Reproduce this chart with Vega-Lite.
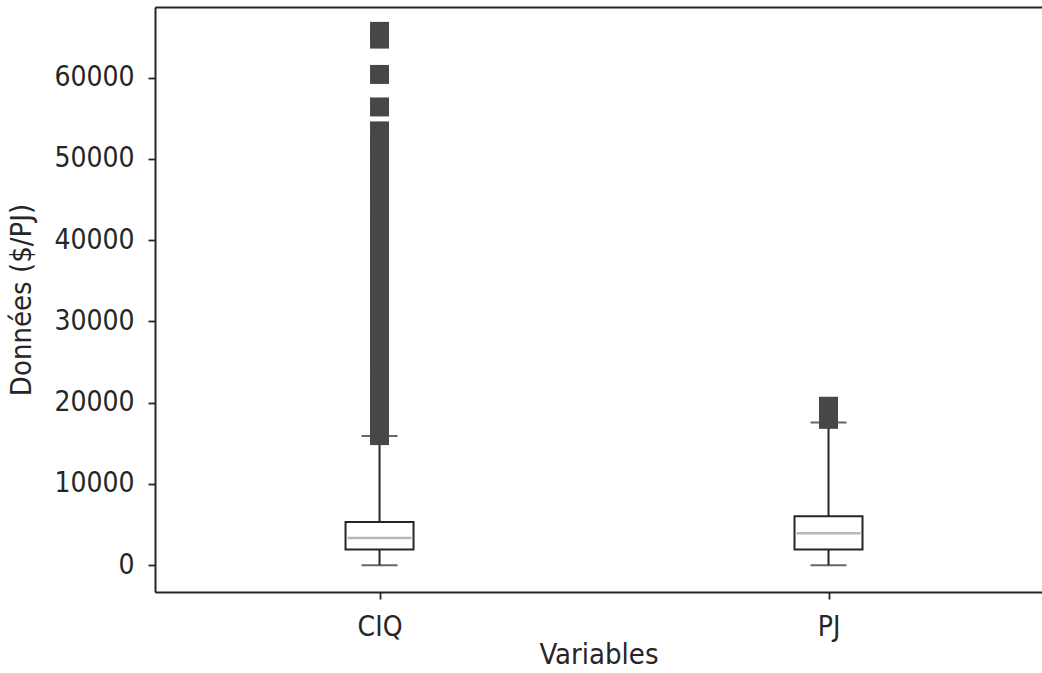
{
  "$schema": "https://vega.github.io/schema/vega-lite/v6.json",
  "autosize": {"type": "none"},
  "padding": {"left": 155, "top": 7, "right": 0, "bottom": 81},
  "width": 887,
  "height": 585,
  "background": "white",
  "config": {
    "view": {"stroke": null},
    "font": "DejaVu Sans Condensed",
    "axis": {
      "domain": true,
      "domainColor": "#262626",
      "domainWidth": 2,
      "grid": false,
      "tickColor": "#262626",
      "tickWidth": 1.8,
      "tickSize": 7,
      "labelColor": "#262626",
      "labelFont": "DejaVu Sans Condensed",
      "labelFontSize": 28,
      "titleColor": "#262626",
      "titleFont": "DejaVu Sans Condensed",
      "titleFontSize": 29,
      "titleFontWeight": "normal"
    }
  },
  "resolve": {"axis": {"x": "independent"}},
  "datasets": {
    "summary": [
      {"variable": "CIQ", "min": 0, "q1": 1930, "median": 3360, "q3": 5330, "max": 15890},
      {"variable": "PJ", "min": 0, "q1": 1930, "median": 3940, "q3": 6030, "max": 17570}
    ],
    "outliers": [
      {"variable": "CIQ", "value": 15950},
      {"variable": "CIQ", "value": 17200},
      {"variable": "CIQ", "value": 18600},
      {"variable": "CIQ", "value": 19800},
      {"variable": "CIQ", "value": 21300},
      {"variable": "CIQ", "value": 22500},
      {"variable": "CIQ", "value": 24000},
      {"variable": "CIQ", "value": 25400},
      {"variable": "CIQ", "value": 26700},
      {"variable": "CIQ", "value": 28100},
      {"variable": "CIQ", "value": 29500},
      {"variable": "CIQ", "value": 30800},
      {"variable": "CIQ", "value": 32300},
      {"variable": "CIQ", "value": 33600},
      {"variable": "CIQ", "value": 35000},
      {"variable": "CIQ", "value": 36400},
      {"variable": "CIQ", "value": 37800},
      {"variable": "CIQ", "value": 39100},
      {"variable": "CIQ", "value": 40600},
      {"variable": "CIQ", "value": 41900},
      {"variable": "CIQ", "value": 43300},
      {"variable": "CIQ", "value": 44700},
      {"variable": "CIQ", "value": 46100},
      {"variable": "CIQ", "value": 47500},
      {"variable": "CIQ", "value": 48800},
      {"variable": "CIQ", "value": 50300},
      {"variable": "CIQ", "value": 51700},
      {"variable": "CIQ", "value": 53450},
      {"variable": "CIQ", "value": 56400},
      {"variable": "CIQ", "value": 60400},
      {"variable": "CIQ", "value": 64750},
      {"variable": "CIQ", "value": 65700},
      {"variable": "PJ", "value": 17950},
      {"variable": "PJ", "value": 18600},
      {"variable": "PJ", "value": 19000},
      {"variable": "PJ", "value": 19560}
    ]
  },
  "layer": [
    {
      "data": {"name": "summary"},
      "mark": {"type": "rule", "color": "#262626", "strokeWidth": 2},
      "encoding": {
        "x": {
          "field": "variable",
          "type": "nominal",
          "scale": {"type": "point", "domain": ["CIQ", "PJ"], "padding": 0.4878, "align": 0.5126},
          "axis": {"title": "Variables", "labelAngle": 0, "labelPadding": 14, "titlePadding": -1}
        },
        "y": {
          "field": "min",
          "type": "quantitative",
          "scale": {"domain": [-3300, 68700], "nice": false, "zero": false},
          "axis": {"title": "Données ($/PJ)", "values": [0, 10000, 20000, 30000, 40000, 50000, 60000], "format": "d", "labelPadding": 14, "titlePadding": 17}
        },
        "y2": {"field": "q1"}
      }
    },
    {
      "data": {"name": "summary"},
      "mark": {"type": "rule", "color": "#262626", "strokeWidth": 2},
      "encoding": {
        "x": {"field": "variable", "type": "nominal", "axis": null},
        "y": {"field": "q3", "type": "quantitative"},
        "y2": {"field": "max"}
      }
    },
    {
      "data": {"name": "summary"},
      "mark": {"type": "tick", "color": "#262626", "size": 36, "thickness": 2, "orient": "horizontal"},
      "encoding": {
        "x": {"field": "variable", "type": "nominal", "axis": null},
        "y": {"field": "min", "type": "quantitative"}
      }
    },
    {
      "data": {"name": "summary"},
      "mark": {"type": "tick", "color": "#262626", "size": 36, "thickness": 2, "orient": "horizontal"},
      "encoding": {
        "x": {"field": "variable", "type": "nominal", "axis": null},
        "y": {"field": "max", "type": "quantitative"}
      }
    },
    {
      "data": {"name": "summary"},
      "mark": {"type": "bar", "width": 68, "fill": "white", "stroke": "#262626", "strokeWidth": 2},
      "encoding": {
        "x": {"field": "variable", "type": "nominal", "axis": null},
        "y": {"field": "q1", "type": "quantitative"},
        "y2": {"field": "q3"}
      }
    },
    {
      "data": {"name": "summary"},
      "mark": {"type": "tick", "color": "#9a9a9a", "size": 64, "thickness": 2.5, "orient": "horizontal"},
      "encoding": {
        "x": {"field": "variable", "type": "nominal", "axis": null},
        "y": {"field": "median", "type": "quantitative"}
      }
    },
    {
      "data": {"name": "outliers"},
      "mark": {"type": "point", "shape": "square", "size": 361, "filled": true, "fill": "#474747", "strokeWidth": 0, "opacity": 1},
      "encoding": {
        "x": {"field": "variable", "type": "nominal", "axis": {"orient": "top", "labels": false, "ticks": false, "title": null}},
        "y": {"field": "value", "type": "quantitative"}
      }
    }
  ]
}
